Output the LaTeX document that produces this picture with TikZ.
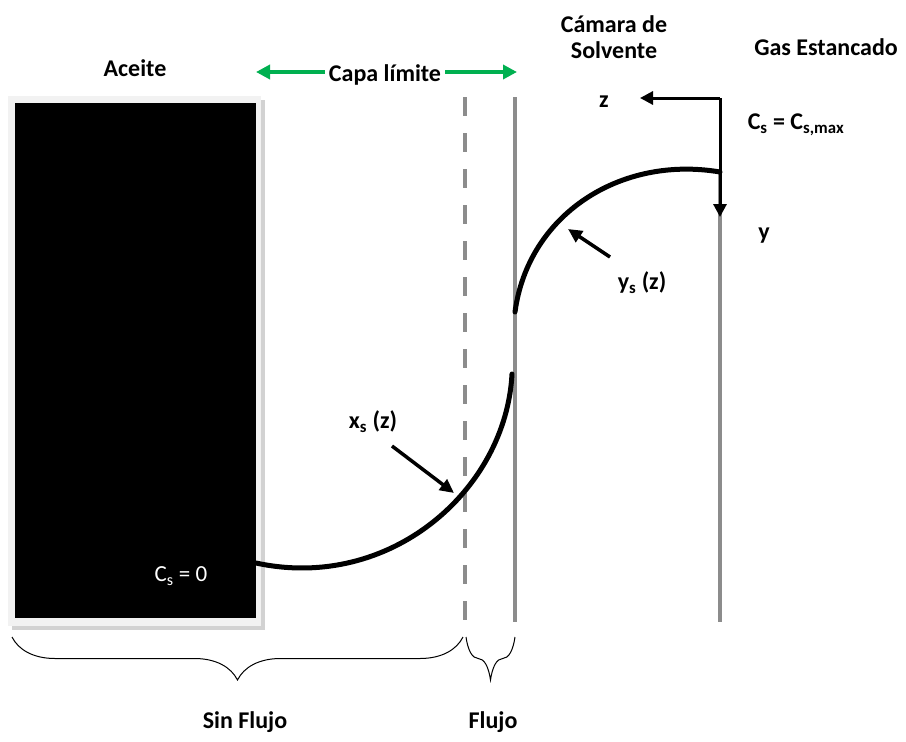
\documentclass[tikz,border=0pt]{standalone}
\usepackage{fontspec}
\setmainfont{Carlito}
\usetikzlibrary{arrows.meta,decorations.pathreplacing}
\definecolor{grn}{HTML}{00B050}
\definecolor{gline}{HTML}{8C8C8C}
\tikzset{
  lbl/.style={font=\fontsize{24}{26}\selectfont\bfseries, align=center, inner sep=0pt},
  wall/.style={gline, line width=3.5pt},
  curve/.style={line width=5pt, line cap=round},
  pointer/.style={line width=3.5pt, -{Triangle[length=14pt,width=13pt]}},
  axis/.style={line width=3pt, -{Triangle[length=13pt,width=13pt]}},
  garrow/.style={grn, line width=3.5pt, -{Triangle[length=14pt,width=14pt]}},
  bracestyle/.style={line width=1pt, decorate, decoration={brace, amplitude=43pt}}
}
\begin{document}
\begin{tikzpicture}[x=1pt,y=-1pt]
\useasboundingbox (0,0) rectangle (906,742);
% oil block
\fill[gray!35] (12,100) rectangle (265,630);
\fill[gray!10] (8,96) rectangle (261,626);
\fill[black] (15,103) rectangle (256,618);
\node[lbl] (aceite) at (135,68) {Aceite};
\node[inner sep=0pt, text=white, font=\fontsize{23}{25}\selectfont] (cs0) at (181,576) {C\textsubscript{s} = 0};
% boundary layer
\node[lbl] (capa) at (385,75) {Capa límite};
\coordinate (gl) at (256,70);
\coordinate (gr) at (517,70);
\draw[garrow] (capa.west) ++(-4,-3) coordinate (cw) -- (gl|-cw);
\draw[garrow] (capa.east) ++(4,-3) coordinate (ce) -- (gr|-ce);
% walls
\coordinate (d1) at (465,97);
\coordinate (d2) at (465,622);
\coordinate (s1) at (515,97);
\coordinate (s2) at (515,622);
\coordinate (g1) at (720,170);
\coordinate (g2) at (720,622);
\draw[wall, dash pattern=on 19pt off 17pt] (d1) -- (d2);
\draw[wall] (s1) -- (s2);
\draw[wall] (g1) -- (g2);
% labels top right
\node[lbl] (camara) at (614,37) {Cámara de\\Solvente};
\node[lbl] (gas) at (826,47) {Gas Estancado};
% axes
\coordinate (o) at (720,98);
\coordinate (zend) at (640,98);
\coordinate (yend) at (720,217);
\draw[axis] (o) -- (zend);
\draw[line width=3pt] (o) -- (720,100);
\draw[axis] (o) -- (yend);
\node[lbl] (z) at (604,102) {z};
\node[lbl] (y) at (764,236) {y};
\node[lbl] (csmax) at (796,125) {C\textsubscript{s} = C\textsubscript{s,max}};
% curves
\coordinate (a1) at (515,312);
\coordinate (a2) at (720,172);
\draw[curve] (a1) .. controls (528,215) and (620,155) .. (a2);
\coordinate (b1) at (256,563);
\coordinate (b2) at (512,374);
\draw[curve] (b1) .. controls (390,592) and (506,490) .. (b2);
% pointers
\coordinate (ys0) at (610,257);
\coordinate (ys1) at (568,229);
\draw[pointer] (ys0) -- (ys1);
\node[lbl] (yslbl) at (642,283) {y\textsubscript{s} (z)};
\coordinate (xs0) at (392,446);
\coordinate (xs1) at (454,493);
\draw[pointer] (xs0) -- (xs1);
\node[lbl] (xslbl) at (373,422) {x\textsubscript{s} (z)};
% braces
\coordinate (br1) at (12,637);
\coordinate (br2) at (463,637);
\coordinate (br3) at (466,637);
\coordinate (br4) at (515,637);
\draw[bracestyle] (br2) -- (br1);
\draw[bracestyle] (br4) -- (br3);
\node[lbl] (sin) at (245,722) {Sin Flujo};
\node[lbl] (flujo) at (493,722) {Flujo};
\end{tikzpicture}
\end{document}
